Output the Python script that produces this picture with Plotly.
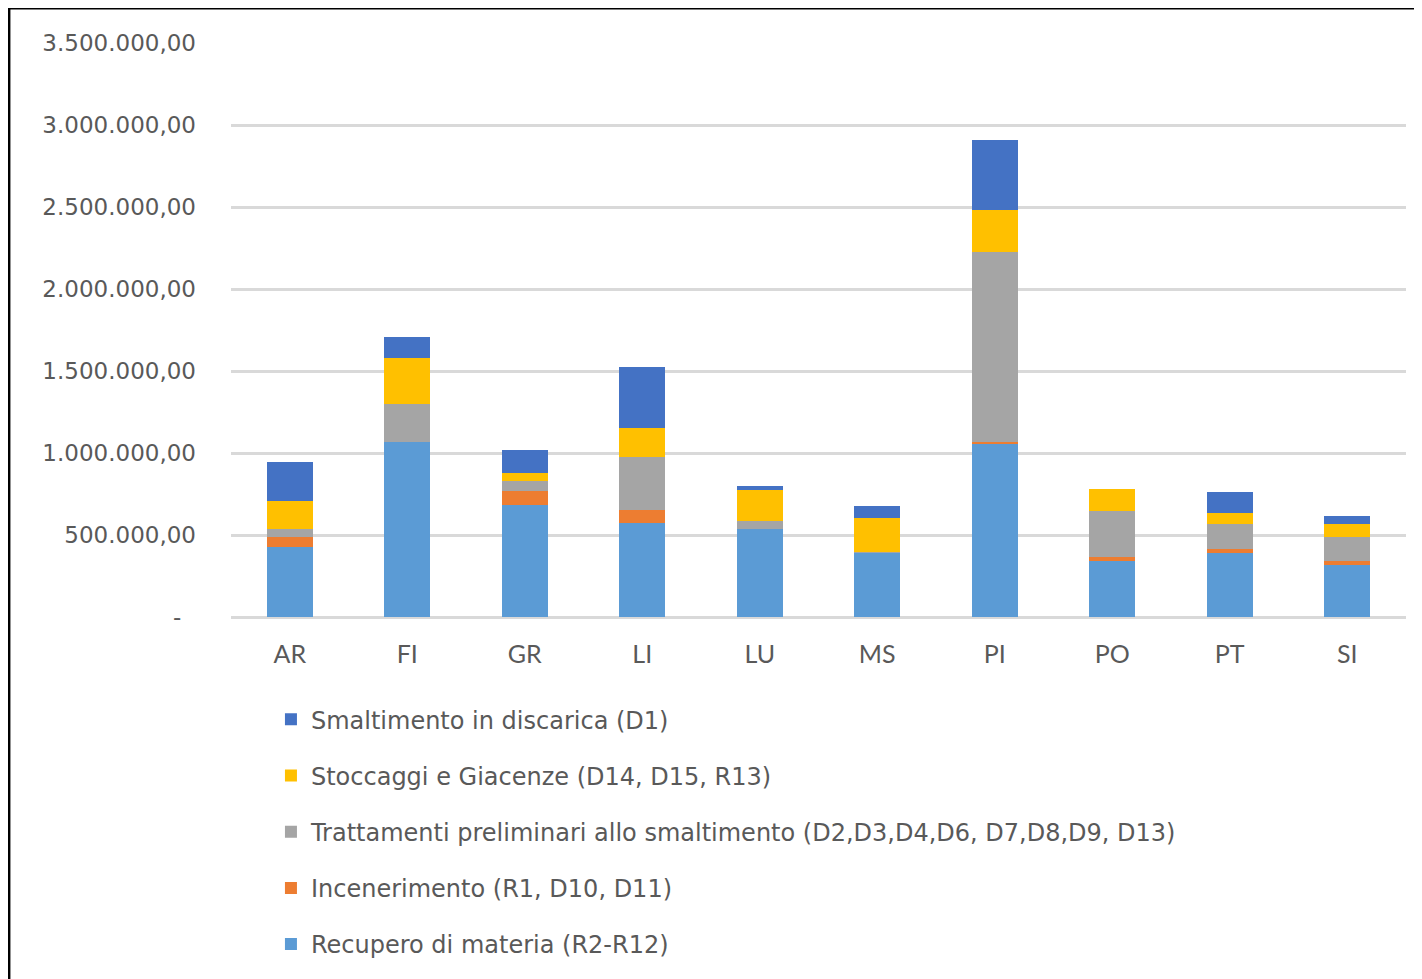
import plotly.graph_objects as go

# province
categories = ["AR", "FI", "GR", "LI", "LU", "MS", "PI", "PO", "PT", "SI"]

# tonnellate per tipo di gestione (valori stimati dal grafico)
recupero_materia = [425000, 1069000, 681000, 572000, 535000, 391000, 1058000, 344000, 389000, 316000]
incenerimento = [61000, 0, 85000, 83000, 0, 2000, 12000, 20000, 24000, 28000]
trattamenti_prel = [53000, 231000, 66000, 323000, 49000, 2000, 1158000, 285000, 157000, 146000]
stoccaggi = [166000, 281000, 48000, 176000, 193000, 211000, 255000, 134000, 67000, 80000]
discarica = [242000, 128000, 140000, 372000, 24000, 73000, 427000, 0, 128000, 48000]

y_tick_vals = [0, 500000, 1000000, 1500000, 2000000, 2500000, 3000000, 3500000]
y_tick_text = ["-\u00a0\u00a0", "500.000,00", "1.000.000,00", "1.500.000,00",
               "2.000.000,00", "2.500.000,00", "3.000.000,00", "3.500.000,00"]

series = [
    ("Recupero di materia (R2-R12)", recupero_materia, "#5B9BD5"),
    ("Incenerimento (R1, D10, D11)", incenerimento, "#ED7D31"),
    ("Trattamenti preliminari allo smaltimento (D2,D3,D4,D6, D7,D8,D9, D13)", trattamenti_prel, "#A5A5A5"),
    ("Stoccaggi e Giacenze (D14, D15, R13)", stoccaggi, "#FFC000"),
    ("Smaltimento in discarica (D1)", discarica, "#4472C4"),
]

fig = go.Figure()
for i, (name, vals, col) in enumerate(series):
    # legenda in ordine inverso rispetto all'impilamento
    fig.add_trace(go.Bar(x=categories, y=vals, name=name, marker_color=col,
                         marker_line_width=0, legendgroup=f"g{i}",
                         legendrank=len(series) - i))

txt = "#595959"
fig.update_layout(
    width=1422, height=979,
    barmode="stack", bargap=0.61,
    plot_bgcolor="white", paper_bgcolor="white",
    margin=dict(l=223, r=24, t=35, b=369.5),
    font=dict(family="DejaVu Sans", color=txt),
    showlegend=True,
    legend=dict(orientation="v", x=0.034, xanchor="left",
                yref="container", y=0.296, yanchor="top",
                traceorder="grouped", tracegroupgap=22,
                font=dict(size=24, color=txt, family="DejaVu Sans")),
    xaxis=dict(showgrid=False, ticks="", ticklabelstandoff=20,
               tickfont=dict(size=25, color=txt, family="Lato")),
    yaxis=dict(range=[0, 3500000], tickvals=y_tick_vals, ticktext=y_tick_text,
               showgrid=True, gridcolor="#D9D9D9", gridwidth=3,
               zeroline=True, zerolinecolor="#D9D9D9", zerolinewidth=3,
               tickfont=dict(size=23, color=txt), ticks="", ticklabelstandoff=34),
)

# cornice esterna del grafico
fig.add_shape(type="rect", xref="paper", yref="paper",
              x0=-0.189, x1=1.5, y0=-2, y1=1.061,
              line=dict(color="black", width=3), layer="above")

fig.write_html("out.html")
